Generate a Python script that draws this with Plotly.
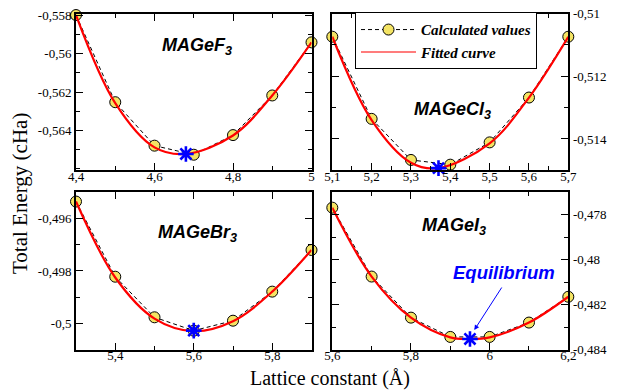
import plotly.graph_objects as go

# ---------------- data ----------------
# MAGeF3
f_x = [4.4, 4.5, 4.6, 4.7, 4.8, 4.9, 5.0]
f_e = [-0.55800, -0.56253, -0.56479, -0.56526, -0.56424, -0.56218, -0.55942]
f_fit_x = [4.4, 4.5, 4.6, 4.68, 4.8, 4.9, 5.0]
f_fit_e = [-0.55800, -0.56258, -0.56488, -0.56522, -0.56426, -0.56218, -0.55942]
f_eq = (4.68, -0.56522)

# MAGeCl3
c_x = [5.1, 5.2, 5.3, 5.4, 5.5, 5.6, 5.7]
c_e = [-0.51074, -0.51336, -0.51467, -0.51482, -0.51411, -0.51268, -0.51074]
c_fit_x = [5.1, 5.2, 5.3, 5.37, 5.5, 5.6, 5.7]
c_fit_e = [-0.51074, -0.51340, -0.51476, -0.51493, -0.51414, -0.51268, -0.51074]
c_eq = (5.37, -0.51493)

# MAGeBr3
b_x = [5.3, 5.4, 5.5, 5.6, 5.7, 5.8, 5.9]
b_e = [-0.49535, -0.49822, -0.49977, -0.50028, -0.49990, -0.49879, -0.49720]
b_fit_x = [5.3, 5.4, 5.5, 5.6, 5.7, 5.8, 5.9]
b_fit_e = [-0.49535, -0.49825, -0.49982, -0.50030, -0.49992, -0.49879, -0.49720]
b_eq = (5.6, -0.50028)

# MAGeI3
i_x = [5.6, 5.7, 5.8, 5.9, 6.0, 6.1, 6.2]
i_e = [-0.47768, -0.48075, -0.48258, -0.48344, -0.48344, -0.48280, -0.48165]
i_fit_x = [5.6, 5.7, 5.8, 5.9, 5.95, 6.0, 6.1, 6.2]
i_fit_e = [-0.47768, -0.48075, -0.48258, -0.48346, -0.48353, -0.48346, -0.48280, -0.48165]
i_eq = (5.95, -0.48353)

# tick labels
f_xt = [4.4, 4.6, 4.8, 5.0]; f_xl = ["4,4", "4,6", "4,8", "5"]
f_yt = [-0.558, -0.560, -0.562, -0.564]; f_yl = ["-0,558", "-0,56", "-0,562", "-0,564"]
c_xt = [5.1, 5.2, 5.3, 5.4, 5.5, 5.6, 5.7]; c_xl = ["5,1", "5,2", "5,3", "5,4", "5,5", "5,6", "5,7"]
c_yt = [-0.510, -0.512, -0.514]; c_yl = ["-0,51", "-0,512", "-0,514"]
b_xt = [5.4, 5.6, 5.8]; b_xl = ["5,4", "5,6", "5,8"]
b_yt = [-0.496, -0.498, -0.500]; b_yl = ["-0,496", "-0,498", "-0,5"]
i_xt = [5.6, 5.8, 6.0, 6.2]; i_xl = ["5,6", "5,8", "6", "6,2"]
i_yt = [-0.478, -0.480, -0.482, -0.484]; i_yl = ["-0,478", "-0,48", "-0,482", "-0,484"]

W, H = 618, 390
SERIF = "Liberation Serif"
SANS = "Liberation Sans"
YEL = "#f4e464"

panels = [
    (f_x, f_e, f_fit_x, f_fit_e, f_eq, "x", "y"),
    (c_x, c_e, c_fit_x, c_fit_e, c_eq, "x2", "y2"),
    (b_x, b_e, b_fit_x, b_fit_e, b_eq, "x3", "y3"),
    (i_x, i_e, i_fit_x, i_fit_e, i_eq, "x4", "y4"),
]

fig = go.Figure()
for k, (xx, ee, fx, fe, eq, xr, yr) in enumerate(panels):
    fig.add_trace(go.Scatter(
        x=xx, y=ee, xaxis=xr, yaxis=yr, mode="lines+markers",
        line=dict(color="black", width=1, dash="4px,3px"),
        marker=dict(symbol="circle", size=11, color=YEL,
                    line=dict(color="black", width=1)),
        name="Calculated values", showlegend=(k == 0),
        cliponaxis=False, legendrank=1))
    fig.add_trace(go.Scatter(
        x=fx, y=fe, xaxis=xr, yaxis=yr, mode="lines",
        line=dict(color="red", width=2.2, shape="spline", smoothing=1.0),
        name="Fitted curve", showlegend=False, cliponaxis=False,
        legendrank=2))
    fig.add_trace(go.Scatter(
        x=[eq[0]], y=[eq[1]], xaxis=xr, yaxis=yr, mode="markers",
        marker=dict(symbol="asterisk-open", size=13, color="blue",
                    line=dict(color="blue", width=2.6)),
        showlegend=False, cliponaxis=False))
# legend proxy for fitted curve
fig.add_trace(go.Scatter(
    x=[None], y=[None], xaxis="x", yaxis="y", mode="lines",
    line=dict(color="#ff5050", width=1.5),
    name="Fitted curve", showlegend=True, legendrank=2))

xdom_l = [76.0 / W, 311.5 / W]
xdom_r = [332.3 / W, 568.3 / W]
ydom_t = [1 - 170.3 / H, 1 - 13.5 / H]
ydom_b = [1 - 349.5 / H, 1 - 192.4 / H]


def ax(dom, rng, tv, tt, minor_dt, anchor, side=None, standoff=0):
    d = dict(
        domain=dom, range=rng, anchor=anchor, automargin=False,
        showline=True, linecolor="black", linewidth=2, mirror="allticks",
        ticks="inside", ticklen=7, tickwidth=1.4, tickcolor="black",
        showgrid=False, zeroline=False,
        tickmode="array", tickvals=tv, ticktext=tt,
        tickfont=dict(family=SERIF, size=13, color="black"),
        ticklabelstandoff=standoff,
    )
    if minor_dt:
        d["minor"] = dict(ticks="inside", ticklen=4, tickwidth=1.4, tickcolor="black",
                          tickmode="linear", tick0=0, dtick=minor_dt, showgrid=False)
    if side:
        d["side"] = side
    return d


XS = -7
fig.update_layout(
    width=W, height=H,
    margin=dict(l=0, r=0, t=0, b=0),
    paper_bgcolor="white", plot_bgcolor="white",
    xaxis=ax(xdom_l, [4.4, 5.0], f_xt, f_xl, 0.1, "y", standoff=XS),
    yaxis=ax(ydom_t, [-0.56607, -0.55792], f_yt, f_yl, 0.001, "x"),
    xaxis2=ax(xdom_r, [5.1, 5.7], c_xt, c_xl, 0.05, "y2", standoff=XS),
    yaxis2=ax(ydom_t, [-0.515, -0.510], c_yt, c_yl, 0.001, "x2", side="right"),
    xaxis3=ax(xdom_l, [5.3, 5.9], b_xt, b_xl, 0.1, "y3", standoff=XS),
    yaxis3=ax(ydom_b, [-0.501, -0.495], b_yt, b_yl, 0.001, "x3"),
    xaxis4=ax(xdom_r, [5.6, 6.2], i_xt, i_xl, 0.1, "y4", standoff=XS),
    yaxis4=ax(ydom_b, [-0.484, -0.477], i_yt, i_yl, 0.001, "x4", side="right"),
    showlegend=True,
    legend=dict(
        x=355 / W, y=1 - 12.3 / H, xanchor="left", yanchor="top",
        bgcolor="white", bordercolor="black", borderwidth=1,
        font=dict(family=SERIF, size=15, color="black", weight="bold", style="italic"),
        itemwidth=55, tracegroupgap=0, itemsizing="trace",
    ),
)


def lab(txt, px, py, size=18, color="black"):
    fig.add_annotation(text=txt, x=px / W, y=1 - py / H, xref="paper", yref="paper",
                       showarrow=False, xanchor="center", yanchor="middle",
                       font=dict(family=SANS, size=size, color=color))


lab("<b><i>MAGeF<sub>3</sub></i></b>", 197, 46)
lab("<b><i>MAGeCl<sub>3</sub></i></b>", 452, 110)
lab("<b><i>MAGeBr<sub>3</sub></i></b>", 197, 233)
lab("<b><i>MAGeI<sub>3</sub></i></b>", 454, 226)
lab("<b><i>Equilibrium</i></b>", 504, 272, size=18.5, color="blue")

# arrow (pixel offsets from head to tail)
fig.add_annotation(x=474.3 / W, y=1 - 330 / H, xref="paper", yref="paper",
                   ax=28.4, ay=-44, text="", showarrow=True, arrowhead=2,
                   arrowsize=1, arrowwidth=1, arrowcolor="blue")

# axis titles
fig.add_annotation(text="Total Energy (cHa)", x=20 / W, y=1 - 194 / H, xref="paper",
                   yref="paper", showarrow=False, textangle=-90,
                   xanchor="center", yanchor="middle",
                   font=dict(family=SERIF, size=21, color="black"))
fig.add_annotation(text="Lattice constant (Å)", x=330 / W, y=1 - 378 / H, xref="paper",
                   yref="paper", showarrow=False, xanchor="center", yanchor="middle",
                   font=dict(family=SERIF, size=20, color="black"))

fig.write_html("out.html")
